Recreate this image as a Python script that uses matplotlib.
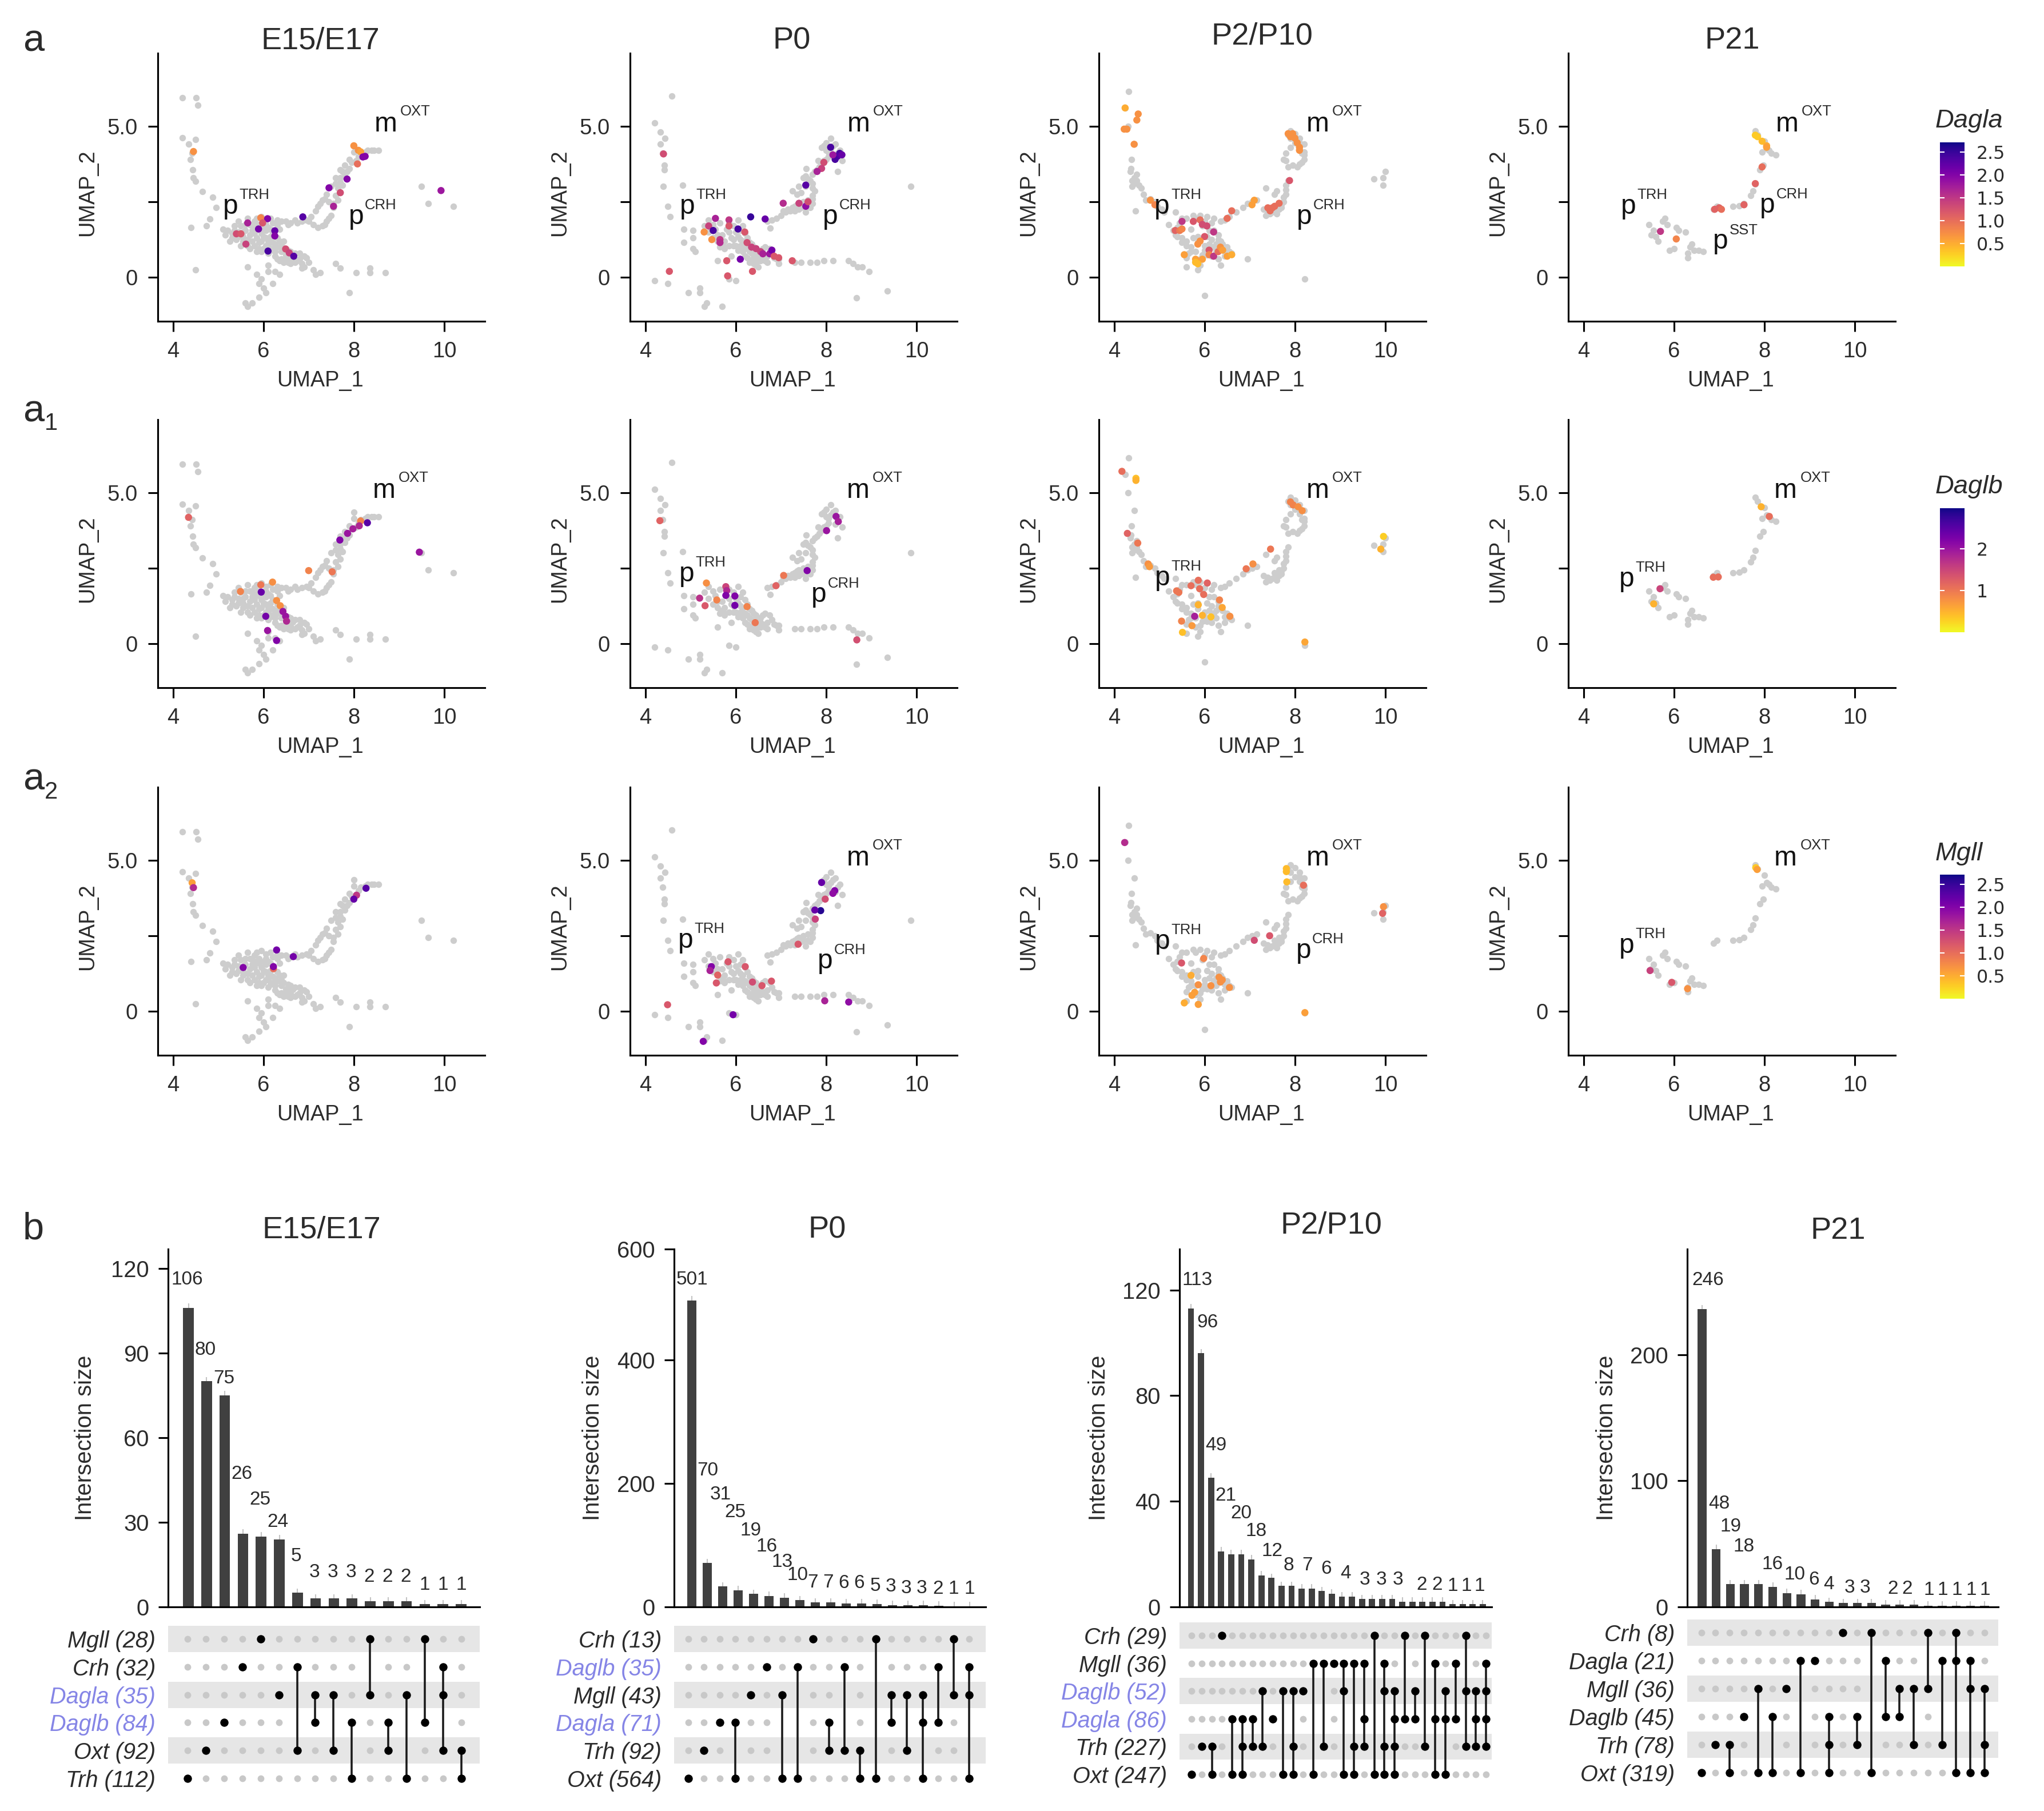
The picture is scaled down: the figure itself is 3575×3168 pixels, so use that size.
import matplotlib
matplotlib.use('Agg')
import matplotlib.pyplot as plt
from matplotlib.cm import ScalarMappable
from matplotlib.colors import Normalize

plt.rcParams['font.family'] = ['Liberation Sans', 'DejaVu Sans']

# ---- data ----
stages = ['E15/E17', 'P0', 'P2/P10', 'P21']
genes = ['Dagla', 'Daglb', 'Mgll']

# grey cells (umap1, umap2), same cells in every row of a column
grey_e15 = [(4.2,5.93),(4.51,5.93),(4.54,5.7),(4.2,4.62),(4.34,4.41),(4.5,4.56),(4.42,4.1),(4.38,3.9),(4.43,3.55),(4.45,3.3),
 (4.5,3.17),(4.65,2.83),(4.87,2.64),(4.95,2.3),(4.81,1.94),(4.74,1.71),(4.4,1.64),(4.5,0.25),
 (7.05,2.0),(7.15,2.2),(7.25,2.45),(7.4,2.75),(7.5,3.0),(7.6,3.3),(7.75,3.5),(7.8,3.7),(7.9,3.9),(8.0,4.15),(8.0,4.35),(8.1,4.0),
 (8.25,4.15),(8.4,4.2),(8.55,4.2),(7.1,1.75),(7.2,1.65),(7.3,1.7),(7.4,1.85),(7.5,2.05),(7.55,2.3),(7.65,2.55),(7.7,2.8),(7.75,3.05),(7.7,3.3),
 (7.35,2.6),(7.45,2.5),(7.6,3.1),(7.7,3.55),(7.9,3.6),
 (5.1,1.6),(5.15,1.4),(5.25,1.2),(5.3,1.45),(5.35,1.7),(5.45,1.85),(5.4,1.25),(5.5,1.05),(5.55,1.5),(5.6,1.75),(5.65,1.95),(5.65,1.25),
 (5.7,0.95),(5.75,1.55),(5.8,1.85),(5.85,1.3),(5.9,0.95),(5.9,1.6),(5.95,2.0),(6.0,1.35),(6.05,1.75),(6.05,1.05),(6.15,1.95),(6.1,0.8),
 (6.2,1.45),(6.2,1.15),(6.25,0.7),(6.3,1.0),(6.3,1.75),(6.35,0.55),(6.4,0.85),(6.45,1.2),(6.5,0.6),(6.55,0.9),(6.6,0.45),(6.65,0.72),
 (6.75,0.55),(6.8,0.8),(6.85,0.45),(6.95,0.65),(7.0,0.5),(6.4,1.85),(6.55,1.75),(6.7,1.9),(6.85,1.85),(5.55,1.2),(5.75,1.2),(5.9,1.15),
 (6.1,1.2),(5.85,1.65),(6.05,1.55),(6.2,0.95),(5.45,1.5),(5.7,1.75),(5.95,1.45),(6.15,1.6),(6.3,1.3),(6.4,1.05),(6.55,0.7),
 (5.2,1.55),(5.3,1.3),(5.35,1.55),(5.45,1.35),(5.5,1.7),(5.55,1.35),(5.6,1.55),(5.65,1.05),(5.7,1.4),(5.75,1.75),(5.8,1.05),(5.8,1.45),(5.85,1.95),
 (5.85,0.85),(5.9,1.75),(5.95,1.2),(5.95,0.85),(6.0,1.65),(6.0,0.95),(6.05,1.9),(6.05,1.3),(6.1,1.05),(6.1,1.65),(6.15,0.9),(6.15,1.35),(6.2,1.8),
 (6.25,0.85),(6.25,1.1),(6.3,0.6),(6.35,1.2),(6.35,1.6),(6.4,0.6),(6.45,0.95),(6.5,0.75),(6.55,0.5),(6.6,0.85),(6.6,0.6),(6.7,0.5),(6.7,0.8),(6.8,0.6),
 (6.9,0.7),(6.45,0.5),(6.5,1.85),(6.6,1.8),(6.75,1.8),(6.95,1.9),(7.0,1.85),(6.3,1.9),(7.3,2.55),(7.2,2.35),(7.35,1.75),(7.45,1.95),(7.55,2.45),(7.6,2.7),
 (7.65,2.95),(7.7,3.15),(7.8,3.35),(7.85,3.5),(7.95,3.8),(8.05,3.85),(8.15,4.1),(8.3,4.2),(8.45,4.2),
 (6.9,0.35),(7.1,0.25),(7.25,0.15),(7.15,0.1),(6.85,0.3),(7.6,0.45),(7.7,0.3),(8.05,0.15),(8.35,0.3),(8.35,0.15),(8.7,0.15),(7.9,-0.5),
 (5.65,0.35),(6.1,0.4),(6.1,0.2),(6.25,0.2),(6.35,0.1),(5.85,0.1),(5.95,-0.05),(5.9,-0.2),(6.0,-0.35),(6.05,-0.5),(6.2,-0.2),(5.9,-0.65),
 (5.75,-0.85),(5.65,-0.95),(5.6,-0.85),(9.5,3.0),(9.65,2.45),(10.2,2.35)]

grey_p0 = [(4.58,6.0),(4.2,5.1),(4.33,4.8),(4.43,4.6),(4.33,4.4),(4.38,4.1),(4.42,3.7),(4.42,3.55),(4.4,3.0),(4.83,3.05),(4.5,2.35),(4.55,2.0),
 (4.85,1.6),(5.05,1.55),(5.05,1.3),(4.85,1.15),(5.05,0.95),(5.1,0.85),(4.2,-0.1),(4.5,-0.2),(4.95,-0.5),(5.2,-0.35),(5.2,-0.5),(5.3,-0.95),
 (5.35,-0.85),(5.7,-0.95),(5.85,-0.05),(6.0,-0.1),
 (5.3,1.7),(5.4,1.5),(5.5,1.3),(5.55,1.6),(5.65,1.8),(5.7,1.1),(5.7,1.4),(5.75,1.0),(5.8,1.6),(5.9,1.3),(5.85,1.8),(5.95,1.05),(6.0,1.5),
 (6.05,1.9),(6.05,0.9),(6.1,1.25),(6.15,1.7),(6.2,1.0),(6.2,0.7),(6.25,1.3),(6.3,0.85),(6.35,0.55),(6.35,1.1),(6.45,0.7),(6.45,0.95),(6.5,0.35),
 (6.55,0.55),(6.55,0.85),(6.6,0.65),(6.65,1.0),(6.7,0.5),(6.8,0.8),(6.9,0.6),(6.95,0.45),(6.45,0.4),(5.75,0.95),(5.9,0.7),(5.6,0.55),
 (5.4,1.9),(5.5,1.75),(5.6,1.4),(5.6,1.2),(5.65,1.0),(5.75,1.2),(5.85,1.5),(5.85,1.05),(5.95,1.7),(5.95,1.25),(6.0,1.05),(6.05,1.35),(6.1,1.05),(6.1,1.55),
 (6.15,0.85),(6.15,1.2),(6.2,1.45),(6.25,0.95),(6.25,0.65),(6.3,1.15),(6.3,0.5),(6.35,0.8),(6.4,0.65),(6.4,1.0),(6.5,0.85),(6.5,0.55),(6.55,0.7),(6.6,0.95),
 (6.65,0.55),(6.7,0.7),(6.75,0.95),(6.85,0.65),(6.4,0.45),
 (6.7,1.85),(6.8,1.9),(6.9,1.95),(7.0,2.05),(7.1,2.15),(7.2,2.2),(7.3,2.35),(7.4,2.45),(7.5,2.5),(7.6,2.55),(7.65,2.3),(7.7,2.7),(7.7,2.95),
 (7.65,3.2),(7.55,3.35),(7.75,3.5),(7.85,3.65),(7.95,3.85),(8.05,4.0),(7.9,4.3),(8.0,4.45),(8.1,4.6),(8.2,4.4),(8.3,4.2),(8.35,3.85),(8.2,3.95),
 (7.4,2.25),(7.55,2.15),(7.25,2.85),(7.45,2.8),(7.55,3.0),(7.7,3.4),(8.25,3.5),(7.56,3.6),(7.82,3.86),(8.0,4.2),(7.3,2.2),
 (7.05,2.2),(7.15,2.25),(7.25,2.3),(7.35,2.4),(7.45,2.3),(7.5,2.35),(7.6,2.35),(7.7,2.45),(7.7,2.6),(7.75,2.85),(7.7,3.1),(7.6,3.25),(7.8,3.55),(7.9,3.75),
 (8.0,3.9),(8.1,4.25),(8.15,4.35),(7.95,4.35),(8.05,4.15),(8.25,4.1),(7.5,3.3),(7.4,3.0),(7.35,2.75),
 (7.3,0.5),(7.45,0.5),(7.65,0.5),(7.8,0.5),(7.95,0.55),(8.15,0.55),(8.5,0.55),(8.6,0.45),(8.7,0.35),(8.8,0.35),(8.95,0.2),(9.35,-0.45),
 (8.67,-0.67),(9.87,3.0),(6.95,0.6),(6.76,1.62)]

grey_p2 = [(4.32,6.15),(4.24,5.6),(4.3,5.0),(4.44,4.4),(4.38,3.9),(4.37,3.6),(4.36,3.5),(4.45,3.3),(4.45,3.1),(4.5,3.2),(4.55,3.05),(4.6,2.95),
 (4.65,2.75),(4.7,2.55),(4.8,2.6),(4.9,2.5),(4.95,2.35),(5.05,2.25),(4.47,2.2),(5.1,2.15),(5.35,2.15),(5.2,1.75),(4.4,3.2),(4.4,3.0),(4.5,3.4),
 (5.45,1.8),(5.6,1.95),(5.75,2.05),(5.9,2.05),(6.05,2.0),(6.15,1.8),(6.2,1.55),(6.3,1.4),(5.3,1.55),(5.4,1.35),(5.5,1.15),(5.6,1.05),(5.7,0.85),
 (5.6,0.65),(5.8,0.55),(5.9,0.4),(6.05,0.75),(6.35,1.2),(6.5,1.0),(6.45,0.7),(6.6,0.8),(6.3,0.6),(5.7,1.6),(5.85,1.35),(6.05,1.35),(5.95,1.7),
 (6.2,1.0),(6.0,1.05),(5.95,0.75),(6.15,0.7),(5.6,0.35),(5.85,0.25),(6.35,0.4),(6.95,0.6),(6.0,-0.6),(8.22,-0.05),
 (5.5,1.95),(5.4,1.65),(5.35,1.4),(5.5,1.3),(5.6,1.2),(5.7,1.0),(5.65,0.8),(5.75,1.3),(5.85,1.15),(5.8,0.85),(5.9,0.6),(6.0,0.9),(6.1,1.1),(6.15,1.25),
 (6.25,1.1),(6.3,1.25),(6.25,0.85),(6.4,1.1),(6.45,0.9),(6.55,0.85),(6.2,1.95),(6.0,1.85),(5.8,1.95),(6.1,1.55),
 (6.35,1.85),(6.45,1.9),(6.55,2.0),(6.7,2.15),(6.85,2.3),(6.95,2.45),(7.05,2.5),(7.15,2.55),(7.3,2.25),(7.4,2.2),(7.5,2.15),(7.55,2.35),(7.65,2.45),
 (7.75,2.65),(7.8,2.9),(7.85,3.2),(7.35,2.95),(7.55,2.75),(7.6,2.85),(7.7,2.3),(7.35,2.05),(7.45,2.1),(7.55,2.2),(7.6,2.1),(7.65,2.25),(7.7,2.4),
 (7.8,2.75),(7.8,3.05),(7.75,2.5),
 (7.75,3.9),(7.8,4.1),(7.85,3.65),(7.95,3.7),(8.1,3.75),(8.2,3.9),(8.2,4.15),(8.1,4.3),(8.2,4.4),(7.9,4.3),(7.85,4.7),(7.9,4.85),(8.0,4.75),(8.1,4.6),
 (7.9,4.6),(8.0,4.45),(8.15,4.1),(8.2,4.05),(8.15,3.8),(8.05,3.65),(7.8,3.85),(8.1,4.45),
 (9.75,3.25),(10.0,3.5),(9.95,3.3),(9.95,3.05)]

grey_p21 = [(5.45,1.75),(5.5,1.4),(5.55,1.55),(5.6,1.35),(5.75,1.85),(5.8,1.95),(5.85,1.75),(5.65,1.2),(6.05,1.65),(6.1,1.55),(6.25,1.5),(6.4,1.1),
 (6.35,1.0),(5.9,0.9),(6.0,0.95),(6.3,0.8),(6.3,0.65),(6.45,0.9),(6.65,0.85),(6.55,0.9),(6.87,2.26),(6.95,2.35),(7.3,2.35),(7.45,2.36),(7.55,2.45),
 (7.7,2.7),(7.75,2.85),(7.8,3.08),(7.97,3.7),(7.9,3.55),(7.8,4.85),(7.85,4.7),(8.0,4.5),(8.05,4.25),(7.95,4.15),(8.15,4.1),(8.25,4.05),(8.1,4.2)]

# coloured cells (umap1, umap2, expression)
dagla_e15 = [(4.45,4.16,.7),(8.0,4.35,.7),(8.1,4.2,.7),(8.15,4.15,.6),(8.08,3.75,1.0),(8.2,3.98,2.0),(8.25,4.0,2.0),(7.85,3.25,2.0),(7.45,2.96,2.0),
 (7.7,2.8,1.3),(7.55,2.35,1.7),(6.87,2.0,2.3),(5.65,1.8,1.7),(5.94,1.97,.8),(6.09,1.94,2.0),(5.98,1.8,1.2),(5.89,1.6,2.1),(6.25,1.54,2.2),(6.25,1.37,2.0),
 (5.4,1.44,1.3),(5.5,1.44,1.2),(5.61,1.1,1.4),(6.1,.87,2.4),(6.49,.94,1.3),(6.57,.81,1.4),(6.67,.7,2.3),(9.93,2.87,1.8)]
dagla_p0 = [(4.4,4.08,1.3),(4.53,.2,1.2),(8.1,4.3,2.4),(8.3,4.1,2.4),(8.25,4.0,2.3),(8.2,3.9,2.4),(8.35,4.05,2.2),(8.15,4.05,1.8),(7.95,3.8,1.3),(7.9,3.6,1.4),
 (7.8,3.5,1.7),(7.55,3.05,2.3),(7.05,2.45,1.6),(7.4,2.45,1.4),(7.55,2.35,1.9),(7.6,2.5,1.3),(6.33,2.0,2.5),(6.65,1.93,2.2),(5.55,1.95,1.7),(5.85,1.9,1.5),
 (5.85,1.7,1.2),(5.3,1.5,.7),(5.4,1.7,1.4),(5.5,1.55,2.4),(5.47,1.25,.7),(5.65,1.25,1.5),(5.65,1.15,1.6),(6.05,1.6,2.4),(6.2,1.5,1.2),(6.25,1.15,1.3),
 (6.35,1.0,1.4),(6.45,.95,1.4),(6.55,.85,1.4),(6.6,.78,1.7),(6.75,.78,1.8),(6.8,.9,2.1),(6.85,.7,1.2),(6.95,.65,1.2),(7.25,.55,1.2),(5.8,.55,1.2),
 (6.1,.6,2.1),(6.37,.2,1.2),(5.82,.05,1.2)]
dagla_p2 = [(4.22,4.9,.7),(4.28,4.9,.7),(4.53,5.4,.7),(4.5,5.2,.7),(4.24,5.6,.5),(4.44,4.4,.7),(4.8,2.55,.7),(4.9,2.4,.8),(7.85,4.75,.7),(7.9,4.65,.7),
 (8.0,4.6,.7),(8.05,4.45,.7),(8.1,4.3,.7),(7.95,4.75,.7),(8.1,4.2,.7),(7.88,3.2,1.2),(7.65,2.45,1.0),(7.5,2.3,1.0),(7.55,2.35,1.0),(7.45,2.2,1.0),
 (7.4,2.3,1.0),(7.1,2.55,.6),(7.05,2.4,.6),(6.6,2.2,1.0),(6.5,1.95,1.0),(5.5,1.85,1.5),(5.35,1.55,1.1),(5.45,1.55,.9),(5.5,1.6,.8),(5.75,1.85,1.2),
 (5.9,1.9,1.0),(5.95,1.75,1.3),(6.05,1.7,1.3),(6.2,1.5,1.5),(6.0,1.35,1.2),(5.9,1.2,.7),(5.85,1.1,.7),(6.1,.9,1.2),(6.1,.75,.8),(6.2,.7,1.5),
 (6.3,.85,1.0),(6.35,1.0,.7),(6.4,.9,.6),(6.5,.7,.6),(6.6,.75,.5),(5.55,.75,.6),(5.8,.6,.6),(5.8,.5,.4),(5.95,.6,.6),(5.85,.45,.4)]
dagla_p21 = [(7.8,4.7,.3),(7.85,4.65,.3),(7.95,4.5,.4),(8.05,4.35,.5),(8.05,4.3,.6),(7.95,3.65,1.0),(7.8,3.1,1.1),(7.55,2.4,1.1),(7.0,2.3,1.1),(6.9,2.25,1.1),
 (7.05,2.25,1.0),(5.7,1.52,1.5),(6.05,1.27,.8)]

daglb_e15 = [(4.34,4.18,1.2),(8.15,4.06,.9),(8.3,4.0,2.5),(8.12,3.9,1.8),(7.98,3.8,1.9),(7.86,3.65,2.0),(7.69,3.43,2.2),(7.0,2.42,.9),(7.52,2.38,1.0),(9.45,3.03,2.0),
 (5.94,1.95,1.0),(6.2,2.04,.8),(5.95,1.71,2.4),(5.49,1.73,.9),(6.29,1.43,.8),(6.37,1.26,.8),(6.43,1.07,2.0),(6.49,.91,2.0),(6.51,.75,1.8),(6.05,.91,2.3),
 (6.09,.44,2.0),(6.29,.11,2.2)]
daglb_p0 = [(4.32,4.07,1.2),(8.22,4.21,2.0),(8.27,4.04,1.9),(8.01,3.74,2.0),(7.58,2.42,2.2),(7.06,2.26,1.0),(6.89,1.92,1.2),(5.35,2.01,.8),(5.78,1.89,1.5),(5.8,1.76,1.8),
 (5.78,1.6,2.2),(5.98,1.58,2.2),(5.98,1.27,2.3),(5.2,1.51,1.7),(5.32,1.26,1.3),(5.58,1.45,.9),(6.25,1.23,.9),(6.43,.7,1.0),(8.68,.13,1.4)]
daglb_p2 = [(4.17,5.7,1.1),(4.48,5.47,.4),(4.48,5.4,.5),(4.29,3.65,1.2),(4.52,3.33,1.0),(4.75,2.64,.8),(4.78,2.55,.7),(7.9,4.69,.9),(7.96,4.59,.9),(8.07,4.53,.8),
 (8.16,4.4,.8),(7.46,3.13,1.0),(7.07,2.64,.8),(6.92,2.48,1.0),(9.96,3.55,.3),(9.9,3.13,.5),(8.22,.06,.6),(5.38,1.75,1.0),(5.43,1.7,1.0),(5.7,1.92,1.1),
 (5.86,2.1,1.1),(6.06,2.01,1.2),(5.89,1.82,1.1),(5.98,1.63,1.1),(5.86,1.29,.5),(6.33,1.45,.9),(6.39,1.2,.6),(5.78,.91,1.9),(5.95,.94,.5),(6.14,.89,.4),
 (6.56,.91,.8),(5.49,.75,.9),(5.72,.6,.7),(5.51,.38,.4)]
daglb_p21 = [(7.93,4.53,.5),(8.11,4.21,1.1),(6.87,2.2,1.1),(6.98,2.21,1.1),(5.69,1.82,1.5),(5.55,1.32,.5)]

mgll_e15 = [(4.42,4.25,.6),(4.45,4.09,1.6),(8.27,4.07,2.3),(8.06,3.84,1.5),(8.0,3.71,2.2),(6.29,2.03,2.1),(6.66,1.81,2.1),(5.55,1.45,2.0),(6.22,1.41,1.0),(6.22,1.48,2.0)]
mgll_p0 = [(7.9,4.26,2.2),(8.19,3.99,2.0),(8.15,3.9,1.9),(7.98,3.71,1.3),(7.88,3.33,2.6),(7.75,3.35,2.2),(7.76,3.05,1.4),(7.38,2.22,1.2),(5.46,1.48,2.0),(5.43,1.35,1.7),
 (5.83,1.64,1.2),(6.21,1.48,1.2),(5.6,1.2,1.1),(5.57,.94,1.2),(6.37,.97,1.3),(6.58,.85,1.2),(6.79,1.0,1.2),(4.49,.22,1.2),(5.94,-.11,2.1),(5.28,-.99,2.0),
 (7.97,.35,1.7),(8.5,.31,1.9)]
mgll_p2 = [(4.23,5.58,1.6),(7.81,4.72,.4),(7.81,4.62,.4),(7.82,4.28,.4),(8.19,4.17,1.0),(9.96,3.46,.7),(9.94,3.24,1.1),(8.22,-.04,.6),(7.44,2.5,1.2),(7.1,2.35,1.3),
 (5.49,1.6,1.2),(5.98,1.75,.8),(5.7,1.19,.5),(6.32,1.13,.7),(6.39,1.04,.7),(5.86,.88,.7),(6.14,.85,.7),(6.35,.97,.7),(6.55,.79,.7),(5.78,.63,.6),(5.72,.53,.6),
 (5.55,.28,.5),(5.86,.23,.6)]
mgll_p21 = [(7.81,4.75,.3),(7.84,4.69,.6),(5.47,1.35,1.4),(5.95,.96,1.2),(6.3,.75,.7)]

# upset plots
bars_e15 = [106,80,75,26,25,24,5,3,3,3,2,2,2,1,1,1]
bars_p0 = [497,71,33,27,21,18,15,11,7,7,6,6,5,3,3,3,2,1,1]
bars_p2 = [113,96,49,21,20,20,18,12,11,8,8,7,7,6,5,4,4,3,3,3,3,2,2,2,2,2,1,1,1,1]
bars_p21 = [236,46,18,18,18,16,11,10,6,4,3,3,3,2,2,2,1,1,1,1,1]

text_e15 = [106,80,75,26,25,24,5,3,3,3,2,2,2,1,1,1]
text_p0 = [501,70,31,25,19,16,13,10,7,7,6,6,5,3,3,3,2,1,1]
text_p2 = [113,96,49,21,20,18,12,8,7,6,4,3,3,3,2,2,1,1,1]
text_p21 = [246,48,19,18,16,10,6,4,3,3,2,2,1,1,1,1,1]

sets_e15 = ['Mgll (28)','Crh (32)','Dagla (35)','Daglb (84)','Oxt (92)','Trh (112)']
sets_p0 = ['Crh (13)','Daglb (35)','Mgll (43)','Dagla (71)','Trh (92)','Oxt (564)']
sets_p2 = ['Crh (29)','Mgll (36)','Daglb (52)','Dagla (86)','Trh (227)','Oxt (247)']
sets_p21 = ['Crh (8)','Dagla (21)','Mgll (36)','Daglb (45)','Trh (78)','Oxt (319)']

combo_e15 = [[5],[4],[3],[1],[0],[2],[1,4],[2,3],[2,4],[3,5],[0,2],[3,4],[2,5],[0,3],[1,2,4],[4,5]]
combo_p0 = [[5],[4],[3],[3,5],[2],[1],[2,5],[1,5],[0],[3,4],[1,4],[4,5],[0,5],[2,3],[2,4],[2,3,5],[1,3],[0,2],[1,2,5]]
combo_p2 = [[5],[4],[4,5],[0],[3,5],[3,4,5],[3,4],[2,4],[3],[2,5],[2,4,5],[2],[1,5],[1,4],[1],[1,2,5],[1,4,5],[1,3,4],[0,5],
            [1,2,4,5],[2,3,4,5],[0,3],[2,3],[0,4],[1,3,5],[2,3,5],[1,3],[0,2,4],[2,3,4],[1,2,3,4]]
combo_p21 = [[5],[4],[4,5],[3],[2,5],[3,5],[2],[1,5],[1],[3,4,5],[0],[3,4],[0,5],[1,3],[2,3],[2,4],[0,2],[1,4],[0,1,5],[1,2,5],[2,4,5]]

# ---- layout, in pixels of the 3575x3168 picture ----
W, H = 3575, 3168
fig = plt.figure(figsize=(W/300, H/300), dpi=300)
DARK = '#2b2b2b'

def px_axes(l, t, r, b):
    return fig.add_axes([l/W, 1-b/H, (r-l)/W, (b-t)/H])

def ftext(x, y, s, **kw):
    kw.setdefault('color', DARK)
    return fig.text(x/W, 1-y/H, s, **kw)

col_left = [276, 1102, 1922, 2743]
row_top = [93, 734, 1377]
grey_all = [grey_e15, grey_p0, grey_p2, grey_p21]
col_all = [[dagla_e15, dagla_p0, dagla_p2, dagla_p21],
           [daglb_e15, daglb_p0, daglb_p2, daglb_p21],
           [mgll_e15, mgll_p0, mgll_p2, mgll_p21]]
cb_max = [2.71, 2.97, 2.71]
cb_y = [249, 889, 1530]
cb_ticks = [[.5,1,1.5,2,2.5], [1,2], [.5,1,1.5,2,2.5]]
cb_labels = [['0.5','1.0','1.5','2.0','2.5'], ['1','2'], ['0.5','1.0','1.5','2.0','2.5']]

# cluster names: (x, y, letter, superscript) for each row and column
names = [
 [[(8.45,4.83,'m','OXT'),(5.1,2.11,'p','TRH'),(7.88,1.77,'p','CRH')],
  [(8.47,4.83,'m','OXT'),(4.76,2.11,'p','TRH'),(7.93,1.77,'p','CRH')],
  [(8.25,4.83,'m','OXT'),(4.89,2.11,'p','TRH'),(8.04,1.77,'p','CRH')],
  [(8.25,4.83,'m','OXT'),(4.82,2.11,'p','TRH'),(7.9,2.13,'p','CRH'),(6.86,.95,'p','SST')]],
 [[(8.42,4.83,'m','OXT')],
  [(8.45,4.83,'m','OXT'),(4.75,2.07,'p','TRH'),(7.67,1.38,'p','CRH')],
  [(8.25,4.83,'m','OXT'),(4.9,1.94,'p','TRH')],
  [(8.22,4.83,'m','OXT'),(4.78,1.9,'p','TRH')]],
 [[],
  [(8.45,4.83,'m','OXT'),(4.72,2.11,'p','TRH'),(7.81,1.42,'p','CRH')],
  [(8.25,4.83,'m','OXT'),(4.9,2.07,'p','TRH'),(8.02,1.77,'p','CRH')],
  [(8.22,4.83,'m','OXT'),(4.78,1.94,'p','TRH')]],
]

for r in range(3):
    norm = Normalize(0, cb_max[r])
    for c in range(4):
        ax = px_axes(col_left[c], row_top[r], col_left[c]+572, row_top[r]+469)
        gx = [p[0] for p in grey_all[c]]
        gy = [p[1] for p in grey_all[c]]
        ax.scatter(gx, gy, s=7.5, color='#cdcdcd', lw=0)
        pts = col_all[r][c]
        ax.scatter([p[0] for p in pts], [p[1] for p in pts], c=[p[2] for p in pts],
                   s=9, cmap='plasma_r', norm=norm, lw=0, zorder=3)
        ax.set_xlim(3.66, 10.9)
        ax.set_ylim(-1.45, 7.41)
        ax.set_xticks([4, 6, 8, 10])
        ax.set_yticks([0, 2.5, 5])
        ax.set_yticklabels(['0', '', '5.0'])
        ax.spines['top'].set_visible(False)
        ax.spines['right'].set_visible(False)
        ax.spines['left'].set_linewidth(.75)
        ax.spines['bottom'].set_linewidth(.75)
        ax.tick_params(length=4.2, width=.75, labelsize=9.2, labelcolor=DARK, pad=4.3)
        ax.set_xlabel('UMAP_1', fontsize=9.1, color=DARK, va='center')
        ax.set_ylabel('UMAP_2', fontsize=9.1, color=DARK, va='center')
        ax.xaxis.set_label_coords(.497, -.221)
        ax.yaxis.set_label_coords(-123/572, .48)
        for x, y, let, sup in names[r][c]:
            ax.text(x, y, let, fontsize=11.5, color='#111111', va='baseline', zorder=5)
            off = (10.8, 6.5) if let == 'm' else (6.9, 6.1)
            ax.annotate(sup, (x, y), xytext=off, textcoords='offset points', fontsize=6.2,
                        color=DARK, va='baseline', zorder=5)
    # colour bar on the right of the row
    cax = px_axes(3393, cb_y[r], 3436, cb_y[r]+217)
    cb = fig.colorbar(ScalarMappable(norm=norm, cmap='plasma_r'), cax=cax)
    cb.set_ticks(cb_ticks[r])
    cb.set_ticklabels(cb_labels[r])
    cb.outline.set_visible(False)
    cb.ax.tick_params(left=True, right=True, direction='in', color='white', width=.5,
                      length=2, labelsize=7.6, labelcolor=DARK, pad=5)
    for t in cb.ax.get_yticklabels():
        t.set_family('DejaVu Sans')
    ftext(3385, cb_y[r]-37, genes[r], fontsize=10.9, style='italic', va='center', ha='left')

# titles of the UMAP block
for x, y, s in zip([560, 1385, 2207, 3030], [71, 71, 64, 71], stages):
    ftext(x, y, s, fontsize=13, ha='center', va='center')

# panel letters
ftext(40, 89, 'a', fontsize=16, va='baseline')
ftext(40, 737, 'a', fontsize=16, va='baseline')
ftext(78, 752, '1', fontsize=10, va='baseline')
ftext(40, 1382, 'a', fontsize=16, va='baseline')
ftext(78, 1397, '2', fontsize=10, va='baseline')
ftext(40, 2168, 'b', fontsize=16, va='baseline')

# ---- upset block ----
up = [
 dict(bars=bars_e15, text=text_e15, sets=sets_e15, combo=combo_e15, blue=['Dagla (35)','Daglb (84)'],
      spine=294, right=839, bar0=329.5, bstep=31.8, dot0=328.3, dstep=31.88, row0=2867, rstep=48.8, bw=.58,
      ymax=126.8, ticks=[0,30,60,90,120], tl=['0','30','60','90','120'], ylx=149, tx=562, ty=2151,
      lx=[-.07,.92,1.95,2.94,3.95,4.93,5.94,6.93,7.94,8.95,9.95,10.94,11.95,13,14,15],
      ly=[116,91,81,47,38,30,18,12.3,12.3,12.3,10.7,10.7,10.7,7.8,7.8,7.8]),
 dict(bars=bars_p0, text=text_p0, sets=sets_p0, combo=combo_p0, blue=['Daglb (35)','Dagla (71)'],
      spine=1179, right=1724, bar0=1210, bstep=27.0, dot0=1204, dstep=27.3, row0=2867, rstep=48.8, bw=.58,
      ymax=580, ticks=[0,200,400,580], tl=['0','200','400','600'], ylx=1037, tx=1447, ty=2151,
      lx=[0,1.02,1.85,2.8,3.83,4.85,5.85,6.85,7.83,8.83,9.85,10.85,11.9,12.9,13.9,14.9,15.95,16.96,17.98],
      ly=[530,221,182,153,124,98,73,51,39,39,38,38,34,33,30,30,29,29,29]),
 dict(bars=bars_p2, text=text_p2, sets=sets_p2, combo=combo_p2, blue=['Daglb (52)','Dagla (86)'],
      spine=2063, right=2609, bar0=2083, bstep=17.6, dot0=2084, dstep=17.76, row0=2861, rstep=48.6, bw=.62,
      ymax=135.5, ticks=[0,40,80,120], tl=['0','40','80','120'], ylx=1922, tx=2328, ty=2144,
      lx=[.65,1.63,2.5,3.48,5.02,6.49,8.09,9.72,11.57,13.42,15.38,17.26,18.92,20.55,22.95,24.49,26,27.38,28.7],
      ly=[123.7,107.6,61.2,42,35.4,28.6,21.2,15.7,15.7,14.3,12.7,10.2,10.2,10.2,8.3,8.3,8,8,8]),
 dict(bars=bars_p21, text=text_p21, sets=sets_p21, combo=combo_p21, blue=[],
      spine=2951, right=3495, bar0=2977, bstep=24.7, dot0=2975.7, dstep=24.76, row0=2856, rstep=49, bw=.62,
      ymax=283.8, ticks=[0,100,200], tl=['0','100','200'], ylx=2810, tx=3215, ty=2153,
      lx=[.41,1.2,2.03,2.94,4.97,6.55,7.93,8.95,10.46,11.55,13.51,14.53,16.05,17.02,18.06,19.05,20.05],
      ly=[259,82,63.5,48,33.7,25.5,21.5,17.8,15.3,15.3,14.4,14.4,13.2,13.2,13.2,13.2,13.2]),
]

for u in up:
    ax = px_axes(u['spine'], 2185, u['right'], 2811)
    xs = list(range(len(u['bars'])))
    ax.bar(xs, u['bars'], width=u['bw'], color='#404040')
    # small pale whisker on top of each bar
    pad = u['ymax']*.012
    ax.vlines(xs, u['bars'], [b+pad for b in u['bars']], color='#c4c4c4', lw=.5)
    ax.set_xlim((u['spine']-u['bar0'])/u['bstep'], (u['right']-u['bar0'])/u['bstep'])
    ax.set_ylim(0, u['ymax'])
    ax.set_yticks(u['ticks'])
    ax.set_yticklabels(u['tl'])
    ax.set_xticks([])
    ax.spines['top'].set_visible(False)
    ax.spines['right'].set_visible(False)
    ax.spines['left'].set_linewidth(.75)
    ax.spines['bottom'].set_linewidth(.75)
    ax.tick_params(length=4, width=.75, labelsize=9.6, labelcolor=DARK, pad=4)
    for x, y, s in zip(u['lx'], u['ly'], u['text']):
        ax.text(x, y, str(s), fontsize=8, color=DARK, ha='center', va='center')
    ftext(u['ylx'], 2515, 'Intersection size', fontsize=9.6, rotation=90, ha='center', va='center')
    ftext(u['tx'], u['ty'], stages[up.index(u)], fontsize=13, ha='center', va='center')

    # matrix under the bars
    top = u['row0'] - u['rstep']/2
    mx = px_axes(u['spine'], top, u['right'], top + 6*u['rstep'])
    mx.set_xlim((u['spine']-u['dot0'])/u['dstep'], (u['right']-u['dot0'])/u['dstep'])
    mx.set_ylim(5.5, -.5)
    for r in [0, 2, 4]:
        mx.axhspan(r-.47, r+.47, color='#e6e6e6', lw=0, zorder=0)
    for i, combo in enumerate(u['combo']):
        lo, hi = min(combo), max(combo)
        rest = [r for r in range(6) if r < lo or r > hi]
        mx.scatter([i]*len(rest), rest, s=8, color='#c8c8c8', lw=0, zorder=1)
        if hi > lo:
            mx.plot([i, i], [lo, hi], color='#1a1a1a', lw=.85, zorder=2)
        mx.scatter([i]*len(combo), combo, s=12, color='black', lw=0, zorder=3)
    mx.set_xticks([])
    mx.set_yticks(range(6))
    mx.set_yticklabels(u['sets'], fontsize=9.5, style='italic', color=DARK)
    for t, name in zip(mx.get_yticklabels(), u['sets']):
        if name in u['blue']:
            t.set_color('#8585e6')
    mx.tick_params(length=0, pad=5.2)
    for s in mx.spines.values():
        s.set_visible(False)

fig.savefig('out.png', dpi=300)
